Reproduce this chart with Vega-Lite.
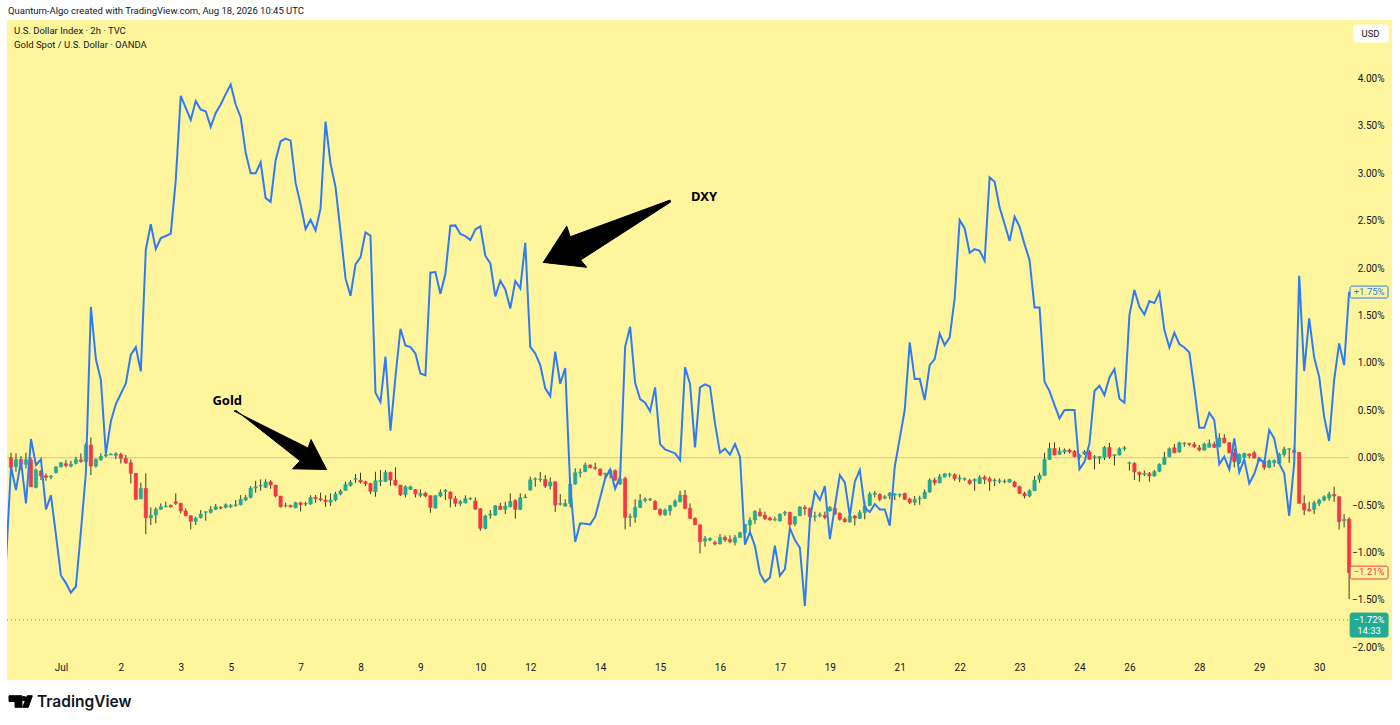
{
  "$schema": "https://vega.github.io/schema/vega-lite/v6.json",
  "description": "DXY against gold, percent change, 2h bars, July",
  "width": 1385,
  "height": 660,
  "autosize": "none",
  "padding": {"left": 7, "top": 20, "right": 8, "bottom": 45},
  "background": "#ffffff",
  "datasets": {
    "dxy": [{"i":-1,"p":-1.09},{"i":0,"p":-0.095},{"i":1,"p":-0.341},{"i":2,"p":-0.032},{"i":3,"p":-0.482},{"i":4,"p":0.197},{"i":5,"p":-0.077},{"i":6,"p":-0.018},{"i":7,"p":-0.545},{"i":8,"p":-0.397},{"i":9,"p":-0.813},{"i":10,"p":-1.242},{"i":11,"p":-1.322},{"i":12,"p":-1.423},{"i":13,"p":-1.358},{"i":14,"p":-0.777},{"i":15,"p":-0.16},{"i":16,"p":1.59},{"i":17,"p":1.038},{"i":18,"p":0.821},{"i":19,"p":0.04},{"i":20,"p":0.385},{"i":21,"p":0.566},{"i":22,"p":0.675},{"i":23,"p":0.784},{"i":24,"p":1.086},{"i":25,"p":1.166},{"i":26,"p":0.911},{"i":27,"p":2.193},{"i":28,"p":2.462},{"i":29,"p":2.2},{"i":30,"p":2.317},{"i":31,"p":2.338},{"i":32,"p":2.364},{"i":33,"p":2.927},{"i":34,"p":3.816},{"i":35,"p":3.689},{"i":36,"p":3.562},{"i":37,"p":3.762},{"i":38,"p":3.671},{"i":39,"p":3.653},{"i":40,"p":3.489},{"i":41,"p":3.635},{"i":42,"p":3.725},{"i":43,"p":3.834},{"i":44,"p":3.936},{"i":45,"p":3.725},{"i":46,"p":3.591},{"i":47,"p":3.217},{"i":48,"p":2.999},{"i":49,"p":2.999},{"i":50,"p":3.115},{"i":51,"p":2.738},{"i":52,"p":2.698},{"i":53,"p":3.137},{"i":54,"p":3.337},{"i":55,"p":3.366},{"i":56,"p":3.344},{"i":57,"p":2.898},{"i":58,"p":2.672},{"i":59,"p":2.411},{"i":60,"p":2.509},{"i":61,"p":2.396},{"i":62,"p":2.629},{"i":63,"p":3.544},{"i":64,"p":3.101},{"i":65,"p":2.854},{"i":66,"p":2.382},{"i":67,"p":1.891},{"i":68,"p":1.708},{"i":69,"p":2.039},{"i":70,"p":2.113},{"i":71,"p":2.376},{"i":72,"p":2.341},{"i":73,"p":0.685},{"i":74,"p":0.587},{"i":75,"p":1.065},{"i":76,"p":0.285},{"i":77,"p":0.854},{"i":78,"p":1.36},{"i":79,"p":1.185},{"i":80,"p":1.167},{"i":81,"p":1.1},{"i":82,"p":0.889},{"i":83,"p":0.868},{"i":84,"p":1.951},{"i":85,"p":1.958},{"i":86,"p":1.729},{"i":87,"p":1.937},{"i":88,"p":2.446},{"i":89,"p":2.45},{"i":90,"p":2.359},{"i":91,"p":2.337},{"i":92,"p":2.295},{"i":93,"p":2.408},{"i":94,"p":2.439},{"i":95,"p":2.13},{"i":96,"p":2.049},{"i":97,"p":1.701},{"i":98,"p":1.866},{"i":99,"p":1.775},{"i":100,"p":1.575},{"i":101,"p":1.863},{"i":102,"p":1.786},{"i":103,"p":2.267},{"i":104,"p":1.17},{"i":105,"p":1.1},{"i":106,"p":0.977},{"i":107,"p":0.731},{"i":108,"p":0.65},{"i":109,"p":1.118},{"i":110,"p":0.78},{"i":111,"p":0.946},{"i":112,"p":-0.3},{"i":113,"p":-0.889},{"i":114,"p":-0.692},{"i":115,"p":-0.696},{"i":116,"p":-0.703},{"i":117,"p":-0.622},{"i":118,"p":-0.422},{"i":119,"p":-0.218},{"i":120,"p":-0.123},{"i":121,"p":-0.327},{"i":122,"p":-0.2},{"i":123,"p":1.17},{"i":124,"p":1.381},{"i":125,"p":0.791},{"i":126,"p":0.619},{"i":127,"p":0.58},{"i":128,"p":0.489},{"i":129,"p":0.742},{"i":130,"p":0.144},{"i":131,"p":0.088},{"i":132,"p":0.067},{"i":133,"p":0.046},{"i":134,"p":-0.025},{"i":135,"p":0.953},{"i":136,"p":0.777},{"i":137,"p":0.109},{"i":138,"p":0.742},{"i":139,"p":0.773},{"i":140,"p":0.749},{"i":141,"p":0.362},{"i":142,"p":0.053},{"i":143,"p":0.095},{"i":144,"p":0.032},{"i":145,"p":0.144},{"i":146,"p":0.011},{"i":147,"p":-0.917},{"i":148,"p":-0.784},{"i":149,"p":-0.931},{"i":150,"p":-1.22},{"i":151,"p":-1.311},{"i":152,"p":-1.262},{"i":153,"p":-0.928},{"i":154,"p":-1.244},{"i":155,"p":-1.174},{"i":156,"p":-0.742},{"i":157,"p":-0.868},{"i":158,"p":-0.949},{"i":159,"p":-1.564},{"i":160,"p":-0.657},{"i":161,"p":-0.359},{"i":162,"p":-0.446},{"i":163,"p":-0.299},{"i":164,"p":-0.858},{"i":165,"p":-0.517},{"i":166,"p":-0.183},{"i":167,"p":-0.26},{"i":168,"p":-0.615},{"i":169,"p":-0.253},{"i":170,"p":-0.13},{"i":171,"p":-0.527},{"i":172,"p":-0.573},{"i":173,"p":-0.489},{"i":174,"p":-0.545},{"i":175,"p":-0.545},{"i":176,"p":-0.717},{"i":177,"p":-0.095},{"i":178,"p":0.204},{"i":179,"p":0.503},{"i":180,"p":1.216},{"i":181,"p":0.83},{"i":182,"p":0.833},{"i":183,"p":0.608},{"i":184,"p":0.977},{"i":185,"p":1.04},{"i":186,"p":1.308},{"i":187,"p":1.188},{"i":188,"p":1.269},{"i":189,"p":1.68},{"i":190,"p":2.506},{"i":191,"p":2.418},{"i":192,"p":2.162},{"i":193,"p":2.2},{"i":194,"p":2.183},{"i":195,"p":2.077},{"i":196,"p":2.956},{"i":197,"p":2.91},{"i":198,"p":2.64},{"i":199,"p":2.464},{"i":200,"p":2.285},{"i":201,"p":2.541},{"i":202,"p":2.436},{"i":203,"p":2.25},{"i":204,"p":2.084},{"i":205,"p":1.585},{"i":206,"p":1.585},{"i":207,"p":0.801},{"i":208,"p":0.703},{"i":209,"p":0.555},{"i":210,"p":0.415},{"i":211,"p":0.503},{"i":212,"p":0.503},{"i":213,"p":0.503},{"i":214,"p":-0.12},{"i":215,"p":-0.042},{"i":216,"p":0.151},{"i":217,"p":0.703},{"i":218,"p":0.759},{"i":219,"p":0.661},{"i":220,"p":0.847},{"i":221,"p":0.935},{"i":222,"p":0.622},{"i":223,"p":0.58},{"i":224,"p":1.504},{"i":225,"p":1.768},{"i":226,"p":1.592},{"i":227,"p":1.511},{"i":228,"p":1.652},{"i":229,"p":1.631},{"i":230,"p":1.743},{"i":231,"p":1.346},{"i":232,"p":1.163},{"i":233,"p":1.318},{"i":234,"p":1.199},{"i":235,"p":1.163},{"i":236,"p":1.111},{"i":237,"p":0.731},{"i":238,"p":0.316},{"i":239,"p":0.316},{"i":240,"p":0.475},{"i":241,"p":0.397},{"i":242,"p":-0.067},{"i":243,"p":0.011},{"i":244,"p":-0.123},{"i":245,"p":0.204},{"i":246,"p":-0.155},{"i":247,"p":-0.018},{"i":248,"p":-0.271},{"i":249,"p":-0.172},{"i":250,"p":-0.007},{"i":251,"p":-0.06},{"i":252,"p":0.292},{"i":253,"p":0.204},{"i":254,"p":-0.06},{"i":255,"p":-0.165},{"i":256,"p":-0.612},{"i":257,"p":-0.06},{"i":258,"p":1.919},{"i":259,"p":0.914},{"i":260,"p":1.469},{"i":261,"p":1.058},{"i":262,"p":0.854},{"i":263,"p":0.432},{"i":264,"p":0.176},{"i":265,"p":0.819},{"i":266,"p":1.206},{"i":267,"p":0.977},{"i":268,"p":1.75}],
    "gold": [{"i":0,"o":0,"h":0.053,"l":-0.148,"c":-0.102},{"i":1,"o":-0.095,"h":0.046,"l":-0.148,"c":-0.018},{"i":2,"o":-0.018,"h":0.018,"l":-0.13,"c":-0.07},{"i":3,"o":-0.07,"h":0.053,"l":-0.112,"c":-0.018},{"i":4,"o":-0.025,"h":0.004,"l":-0.306,"c":-0.306},{"i":5,"o":-0.313,"h":-0.112,"l":-0.323,"c":-0.13},{"i":6,"o":-0.141,"h":-0.13,"l":-0.236,"c":-0.193},{"i":7,"o":-0.19,"h":-0.165,"l":-0.243,"c":-0.207},{"i":8,"o":-0.204,"h":-0.183,"l":-0.228,"c":-0.193},{"i":9,"o":-0.158,"h":-0.088,"l":-0.165,"c":-0.098},{"i":10,"o":-0.095,"h":-0.046,"l":-0.102,"c":-0.053},{"i":11,"o":-0.063,"h":-0.025,"l":-0.102,"c":-0.084},{"i":12,"o":-0.088,"h":-0.032,"l":-0.102,"c":-0.067},{"i":13,"o":-0.06,"h":0.011,"l":-0.07,"c":-0.018},{"i":14,"o":-0.021,"h":0.046,"l":-0.053,"c":-0.039},{"i":15,"o":-0.042,"h":0.158,"l":-0.042,"c":0.134},{"i":16,"o":0.134,"h":0.214,"l":-0.183,"c":-0.088},{"i":17,"o":-0.088,"h":-0.007,"l":-0.105,"c":-0.018},{"i":18,"o":-0.021,"h":0.046,"l":-0.032,"c":0.014},{"i":19,"o":0.018,"h":0.046,"l":0.004,"c":0.032},{"i":20,"o":0.032,"h":0.046,"l":0.025,"c":0.039},{"i":21,"o":0.025,"h":0.056,"l":-0.014,"c":0.042},{"i":22,"o":0.035,"h":0.053,"l":-0.06,"c":-0.007},{"i":23,"o":-0.007,"h":0.028,"l":-0.067,"c":-0.053},{"i":24,"o":-0.053,"h":-0.018,"l":-0.271,"c":-0.165},{"i":25,"o":-0.165,"h":-0.165,"l":-0.446,"c":-0.439},{"i":26,"o":-0.432,"h":-0.264,"l":-0.439,"c":-0.323},{"i":27,"o":-0.323,"h":-0.165,"l":-0.805,"c":-0.633},{"i":28,"o":-0.633,"h":-0.524,"l":-0.71,"c":-0.605},{"i":29,"o":-0.605,"h":-0.524,"l":-0.692,"c":-0.545},{"i":30,"o":-0.545,"h":-0.482,"l":-0.552,"c":-0.517},{"i":31,"o":-0.517,"h":-0.464,"l":-0.524,"c":-0.51},{"i":32,"o":-0.503,"h":-0.492,"l":-0.524,"c":-0.52},{"i":33,"o":-0.464,"h":-0.376,"l":-0.499,"c":-0.482},{"i":34,"o":-0.482,"h":-0.475,"l":-0.587,"c":-0.562},{"i":35,"o":-0.562,"h":-0.534,"l":-0.619,"c":-0.612},{"i":36,"o":-0.612,"h":-0.605,"l":-0.756,"c":-0.671},{"i":37,"o":-0.671,"h":-0.622,"l":-0.71,"c":-0.64},{"i":38,"o":-0.633,"h":-0.552,"l":-0.643,"c":-0.594},{"i":39,"o":-0.576,"h":-0.569,"l":-0.664,"c":-0.569},{"i":40,"o":-0.576,"h":-0.51,"l":-0.587,"c":-0.545},{"i":41,"o":-0.545,"h":-0.489,"l":-0.552,"c":-0.517},{"i":42,"o":-0.524,"h":-0.51,"l":-0.545,"c":-0.531},{"i":43,"o":-0.524,"h":-0.482,"l":-0.534,"c":-0.496},{"i":44,"o":-0.517,"h":-0.489,"l":-0.531,"c":-0.503},{"i":45,"o":-0.503,"h":-0.446,"l":-0.517,"c":-0.496},{"i":46,"o":-0.496,"h":-0.394,"l":-0.503,"c":-0.439},{"i":47,"o":-0.446,"h":-0.394,"l":-0.457,"c":-0.418},{"i":48,"o":-0.418,"h":-0.299,"l":-0.429,"c":-0.32},{"i":49,"o":-0.32,"h":-0.243,"l":-0.369,"c":-0.306},{"i":50,"o":-0.299,"h":-0.228,"l":-0.348,"c":-0.292},{"i":51,"o":-0.313,"h":-0.228,"l":-0.32,"c":-0.257},{"i":52,"o":-0.253,"h":-0.236,"l":-0.327,"c":-0.288},{"i":53,"o":-0.288,"h":-0.288,"l":-0.418,"c":-0.404},{"i":54,"o":-0.404,"h":-0.404,"l":-0.524,"c":-0.517},{"i":55,"o":-0.51,"h":-0.475,"l":-0.524,"c":-0.503},{"i":56,"o":-0.503,"h":-0.496,"l":-0.524,"c":-0.517},{"i":57,"o":-0.527,"h":-0.464,"l":-0.534,"c":-0.475},{"i":58,"o":-0.475,"h":-0.464,"l":-0.566,"c":-0.496},{"i":59,"o":-0.489,"h":-0.464,"l":-0.51,"c":-0.482},{"i":60,"o":-0.489,"h":-0.397,"l":-0.496,"c":-0.418},{"i":61,"o":-0.418,"h":-0.394,"l":-0.475,"c":-0.432},{"i":62,"o":-0.432,"h":-0.369,"l":-0.46,"c":-0.446},{"i":63,"o":-0.446,"h":-0.397,"l":-0.517,"c":-0.464},{"i":64,"o":-0.468,"h":-0.376,"l":-0.51,"c":-0.446},{"i":65,"o":-0.446,"h":-0.359,"l":-0.46,"c":-0.383},{"i":66,"o":-0.383,"h":-0.334,"l":-0.397,"c":-0.351},{"i":67,"o":-0.344,"h":-0.253,"l":-0.351,"c":-0.281},{"i":68,"o":-0.292,"h":-0.236,"l":-0.306,"c":-0.257},{"i":69,"o":-0.228,"h":-0.172,"l":-0.264,"c":-0.218},{"i":70,"o":-0.236,"h":-0.158,"l":-0.271,"c":-0.257},{"i":71,"o":-0.253,"h":-0.243,"l":-0.299,"c":-0.274},{"i":72,"o":-0.271,"h":-0.264,"l":-0.383,"c":-0.355},{"i":73,"o":-0.359,"h":-0.148,"l":-0.411,"c":-0.243},{"i":74,"o":-0.25,"h":-0.13,"l":-0.299,"c":-0.239},{"i":75,"o":-0.25,"h":-0.13,"l":-0.257,"c":-0.155},{"i":76,"o":-0.155,"h":-0.148,"l":-0.295,"c":-0.236},{"i":77,"o":-0.236,"h":-0.102,"l":-0.295,"c":-0.288},{"i":78,"o":-0.288,"h":-0.288,"l":-0.404,"c":-0.39},{"i":79,"o":-0.39,"h":-0.292,"l":-0.418,"c":-0.306},{"i":80,"o":-0.334,"h":-0.295,"l":-0.341,"c":-0.306},{"i":81,"o":-0.337,"h":-0.33,"l":-0.418,"c":-0.383},{"i":82,"o":-0.397,"h":-0.334,"l":-0.418,"c":-0.376},{"i":83,"o":-0.373,"h":-0.359,"l":-0.418,"c":-0.404},{"i":84,"o":-0.401,"h":-0.394,"l":-0.58,"c":-0.524},{"i":85,"o":-0.531,"h":-0.394,"l":-0.538,"c":-0.401},{"i":86,"o":-0.404,"h":-0.334,"l":-0.418,"c":-0.366},{"i":87,"o":-0.355,"h":-0.33,"l":-0.446,"c":-0.344},{"i":88,"o":-0.362,"h":-0.355,"l":-0.524,"c":-0.432},{"i":89,"o":-0.432,"h":-0.404,"l":-0.517,"c":-0.482},{"i":90,"o":-0.482,"h":-0.446,"l":-0.51,"c":-0.464},{"i":91,"o":-0.475,"h":-0.397,"l":-0.482,"c":-0.432},{"i":92,"o":-0.436,"h":-0.418,"l":-0.446,"c":-0.429},{"i":93,"o":-0.457,"h":-0.418,"l":-0.552,"c":-0.541},{"i":94,"o":-0.538,"h":-0.531,"l":-0.77,"c":-0.745},{"i":95,"o":-0.745,"h":-0.601,"l":-0.756,"c":-0.615},{"i":96,"o":-0.605,"h":-0.552,"l":-0.643,"c":-0.594},{"i":97,"o":-0.605,"h":-0.499,"l":-0.612,"c":-0.506},{"i":98,"o":-0.51,"h":-0.475,"l":-0.552,"c":-0.545},{"i":99,"o":-0.545,"h":-0.464,"l":-0.594,"c":-0.51},{"i":100,"o":-0.517,"h":-0.376,"l":-0.524,"c":-0.46},{"i":101,"o":-0.45,"h":-0.439,"l":-0.643,"c":-0.545},{"i":102,"o":-0.545,"h":-0.376,"l":-0.552,"c":-0.422},{"i":103,"o":-0.422,"h":-0.383,"l":-0.425,"c":-0.415},{"i":104,"o":-0.341,"h":-0.2,"l":-0.348,"c":-0.232},{"i":105,"o":-0.228,"h":-0.207,"l":-0.306,"c":-0.221},{"i":106,"o":-0.232,"h":-0.151,"l":-0.257,"c":-0.225},{"i":107,"o":-0.228,"h":-0.183,"l":-0.32,"c":-0.299},{"i":108,"o":-0.299,"h":-0.207,"l":-0.334,"c":-0.257},{"i":109,"o":-0.253,"h":-0.25,"l":-0.573,"c":-0.499},{"i":110,"o":-0.492,"h":-0.383,"l":-0.503,"c":-0.482},{"i":111,"o":-0.51,"h":-0.439,"l":-0.517,"c":-0.482},{"i":112,"o":-0.482,"h":-0.218,"l":-0.524,"c":-0.278},{"i":113,"o":-0.278,"h":-0.112,"l":-0.285,"c":-0.158},{"i":114,"o":-0.158,"h":-0.116,"l":-0.207,"c":-0.151},{"i":115,"o":-0.148,"h":-0.053,"l":-0.151,"c":-0.077},{"i":116,"o":-0.077,"h":-0.07,"l":-0.112,"c":-0.105},{"i":117,"o":-0.102,"h":-0.053,"l":-0.13,"c":-0.112},{"i":118,"o":-0.12,"h":-0.112,"l":-0.193,"c":-0.183},{"i":119,"o":-0.172,"h":-0.158,"l":-0.218,"c":-0.165},{"i":120,"o":-0.172,"h":-0.12,"l":-0.218,"c":-0.13},{"i":121,"o":-0.137,"h":-0.123,"l":-0.243,"c":-0.236},{"i":122,"o":-0.278,"h":-0.183,"l":-0.288,"c":-0.225},{"i":123,"o":-0.218,"h":-0.2,"l":-0.756,"c":-0.629},{"i":124,"o":-0.629,"h":-0.587,"l":-0.728,"c":-0.622},{"i":125,"o":-0.629,"h":-0.439,"l":-0.685,"c":-0.524},{"i":126,"o":-0.524,"h":-0.383,"l":-0.531,"c":-0.45},{"i":127,"o":-0.45,"h":-0.418,"l":-0.471,"c":-0.436},{"i":128,"o":-0.443,"h":-0.422,"l":-0.457,"c":-0.436},{"i":129,"o":-0.46,"h":-0.446,"l":-0.552,"c":-0.545},{"i":130,"o":-0.545,"h":-0.534,"l":-0.612,"c":-0.598},{"i":131,"o":-0.601,"h":-0.534,"l":-0.612,"c":-0.552},{"i":132,"o":-0.559,"h":-0.496,"l":-0.608,"c":-0.506},{"i":133,"o":-0.51,"h":-0.439,"l":-0.524,"c":-0.457},{"i":134,"o":-0.464,"h":-0.348,"l":-0.471,"c":-0.394},{"i":135,"o":-0.394,"h":-0.341,"l":-0.545,"c":-0.534},{"i":136,"o":-0.534,"h":-0.482,"l":-0.64,"c":-0.64},{"i":137,"o":-0.64,"h":-0.629,"l":-0.71,"c":-0.707},{"i":138,"o":-0.707,"h":-0.707,"l":-1.009,"c":-0.886},{"i":139,"o":-0.879,"h":-0.826,"l":-0.938,"c":-0.854},{"i":140,"o":-0.868,"h":-0.84,"l":-0.882,"c":-0.851},{"i":141,"o":-0.893,"h":-0.875,"l":-0.924,"c":-0.91},{"i":142,"o":-0.91,"h":-0.805,"l":-0.914,"c":-0.84},{"i":143,"o":-0.84,"h":-0.819,"l":-0.886,"c":-0.868},{"i":144,"o":-0.861,"h":-0.819,"l":-0.903,"c":-0.886},{"i":145,"o":-0.893,"h":-0.815,"l":-0.924,"c":-0.84},{"i":146,"o":-0.84,"h":-0.78,"l":-0.844,"c":-0.791},{"i":147,"o":-0.791,"h":-0.703,"l":-0.868,"c":-0.703},{"i":148,"o":-0.71,"h":-0.629,"l":-0.791,"c":-0.657},{"i":149,"o":-0.657,"h":-0.552,"l":-0.699,"c":-0.566},{"i":150,"o":-0.573,"h":-0.534,"l":-0.622,"c":-0.612},{"i":151,"o":-0.605,"h":-0.569,"l":-0.657,"c":-0.643},{"i":152,"o":-0.636,"h":-0.622,"l":-0.664,"c":-0.657},{"i":153,"o":-0.657,"h":-0.622,"l":-0.671,"c":-0.65},{"i":154,"o":-0.668,"h":-0.587,"l":-0.671,"c":-0.594},{"i":155,"o":-0.587,"h":-0.559,"l":-0.615,"c":-0.576},{"i":156,"o":-0.576,"h":-0.569,"l":-0.721,"c":-0.703},{"i":157,"o":-0.699,"h":-0.615,"l":-0.721,"c":-0.622},{"i":158,"o":-0.612,"h":-0.51,"l":-0.615,"c":-0.52},{"i":159,"o":-0.524,"h":-0.499,"l":-0.605,"c":-0.538},{"i":160,"o":-0.534,"h":-0.524,"l":-0.671,"c":-0.622},{"i":161,"o":-0.622,"h":-0.569,"l":-0.671,"c":-0.615},{"i":162,"o":-0.612,"h":-0.576,"l":-0.629,"c":-0.601},{"i":163,"o":-0.608,"h":-0.569,"l":-0.65,"c":-0.629},{"i":164,"o":-0.562,"h":-0.51,"l":-0.569,"c":-0.524},{"i":165,"o":-0.534,"h":-0.524,"l":-0.605,"c":-0.594},{"i":166,"o":-0.587,"h":-0.576,"l":-0.664,"c":-0.65},{"i":167,"o":-0.647,"h":-0.629,"l":-0.682,"c":-0.675},{"i":168,"o":-0.678,"h":-0.605,"l":-0.685,"c":-0.615},{"i":169,"o":-0.615,"h":-0.605,"l":-0.714,"c":-0.636},{"i":170,"o":-0.64,"h":-0.552,"l":-0.647,"c":-0.58},{"i":171,"o":-0.58,"h":-0.453,"l":-0.65,"c":-0.51},{"i":172,"o":-0.503,"h":-0.359,"l":-0.51,"c":-0.383},{"i":173,"o":-0.387,"h":-0.352,"l":-0.418,"c":-0.376},{"i":174,"o":-0.387,"h":-0.376,"l":-0.46,"c":-0.439},{"i":175,"o":-0.425,"h":-0.394,"l":-0.439,"c":-0.411},{"i":176,"o":-0.404,"h":-0.362,"l":-0.439,"c":-0.373},{"i":177,"o":-0.394,"h":-0.373,"l":-0.446,"c":-0.383},{"i":178,"o":-0.394,"h":-0.376,"l":-0.418,"c":-0.387},{"i":179,"o":-0.376,"h":-0.369,"l":-0.446,"c":-0.439},{"i":180,"o":-0.436,"h":-0.422,"l":-0.489,"c":-0.471},{"i":181,"o":-0.471,"h":-0.404,"l":-0.503,"c":-0.439},{"i":182,"o":-0.432,"h":-0.401,"l":-0.496,"c":-0.425},{"i":183,"o":-0.429,"h":-0.334,"l":-0.436,"c":-0.362},{"i":184,"o":-0.362,"h":-0.218,"l":-0.369,"c":-0.236},{"i":185,"o":-0.236,"h":-0.211,"l":-0.292,"c":-0.264},{"i":186,"o":-0.264,"h":-0.172,"l":-0.271,"c":-0.2},{"i":187,"o":-0.204,"h":-0.165,"l":-0.207,"c":-0.169},{"i":188,"o":-0.183,"h":-0.158,"l":-0.207,"c":-0.176},{"i":189,"o":-0.179,"h":-0.165,"l":-0.243,"c":-0.221},{"i":190,"o":-0.225,"h":-0.179,"l":-0.257,"c":-0.214},{"i":191,"o":-0.228,"h":-0.207,"l":-0.243,"c":-0.221},{"i":192,"o":-0.239,"h":-0.221,"l":-0.285,"c":-0.271},{"i":193,"o":-0.243,"h":-0.218,"l":-0.348,"c":-0.228},{"i":194,"o":-0.271,"h":-0.186,"l":-0.278,"c":-0.207},{"i":195,"o":-0.204,"h":-0.186,"l":-0.278,"c":-0.228},{"i":196,"o":-0.221,"h":-0.2,"l":-0.348,"c":-0.25},{"i":197,"o":-0.246,"h":-0.218,"l":-0.299,"c":-0.236},{"i":198,"o":-0.25,"h":-0.218,"l":-0.271,"c":-0.243},{"i":199,"o":-0.253,"h":-0.228,"l":-0.271,"c":-0.246},{"i":200,"o":-0.257,"h":-0.221,"l":-0.264,"c":-0.228},{"i":201,"o":-0.257,"h":-0.243,"l":-0.313,"c":-0.306},{"i":202,"o":-0.306,"h":-0.295,"l":-0.383,"c":-0.376},{"i":203,"o":-0.376,"h":-0.359,"l":-0.429,"c":-0.404},{"i":204,"o":-0.404,"h":-0.334,"l":-0.418,"c":-0.348},{"i":205,"o":-0.348,"h":-0.193,"l":-0.351,"c":-0.236},{"i":206,"o":-0.228,"h":-0.158,"l":-0.264,"c":-0.183},{"i":207,"o":-0.186,"h":0.053,"l":-0.193,"c":-0.018},{"i":208,"o":-0.018,"h":0.158,"l":-0.025,"c":0.098},{"i":209,"o":0.098,"h":0.162,"l":0.025,"c":0.028},{"i":210,"o":0.035,"h":0.109,"l":0.032,"c":0.07},{"i":211,"o":0.06,"h":0.098,"l":0.039,"c":0.081},{"i":212,"o":0.081,"h":0.095,"l":0.046,"c":0.06},{"i":213,"o":0.067,"h":0.081,"l":0.004,"c":0.011},{"i":214,"o":0.004,"h":0.039,"l":-0.018,"c":0.028},{"i":215,"o":0.039,"h":0.081,"l":0.028,"c":0.063},{"i":216,"o":0.063,"h":0.081,"l":-0.018,"c":-0.018},{"i":217,"o":-0.004,"h":0.028,"l":-0.123,"c":0.011},{"i":218,"o":-0.007,"h":0.018,"l":-0.067,"c":0.011},{"i":219,"o":0.004,"h":0.123,"l":-0.025,"c":0.109},{"i":220,"o":0.109,"h":0.158,"l":-0.011,"c":0.011},{"i":221,"o":0.021,"h":0.032,"l":-0.081,"c":0.032},{"i":222,"o":0.028,"h":0.109,"l":0.025,"c":0.095},{"i":223,"o":0.095,"h":0.123,"l":0.074,"c":0.105},{"i":224,"o":-0.06,"h":-0.042,"l":-0.137,"c":-0.053},{"i":225,"o":-0.06,"h":-0.046,"l":-0.236,"c":-0.151},{"i":226,"o":-0.155,"h":-0.144,"l":-0.253,"c":-0.179},{"i":227,"o":-0.176,"h":-0.137,"l":-0.193,"c":-0.165},{"i":228,"o":-0.165,"h":-0.151,"l":-0.253,"c":-0.193},{"i":229,"o":-0.193,"h":-0.13,"l":-0.2,"c":-0.144},{"i":230,"o":-0.144,"h":-0.06,"l":-0.151,"c":-0.07},{"i":231,"o":-0.07,"h":0.063,"l":-0.074,"c":0.004},{"i":232,"o":0.011,"h":0.109,"l":0.004,"c":0.095},{"i":233,"o":0.105,"h":0.144,"l":0.046,"c":0.053},{"i":234,"o":0.06,"h":0.169,"l":0.053,"c":0.158},{"i":235,"o":0.148,"h":0.165,"l":0.116,"c":0.155},{"i":236,"o":0.151,"h":0.158,"l":0.123,"c":0.141},{"i":237,"o":0.141,"h":0.165,"l":0.102,"c":0.116},{"i":238,"o":0.105,"h":0.134,"l":0.067,"c":0.081},{"i":239,"o":0.081,"h":0.158,"l":0.074,"c":0.144},{"i":240,"o":0.109,"h":0.193,"l":0.109,"c":0.151},{"i":241,"o":0.144,"h":0.169,"l":0.102,"c":0.109},{"i":242,"o":0.116,"h":0.257,"l":0.109,"c":0.207},{"i":243,"o":0.207,"h":0.25,"l":0.151,"c":0.158},{"i":244,"o":0.158,"h":0.165,"l":0.046,"c":0.053},{"i":245,"o":0.053,"h":0.098,"l":-0.102,"c":-0.042},{"i":246,"o":-0.053,"h":0.046,"l":-0.067,"c":0.035},{"i":247,"o":0.004,"h":0.053,"l":-0.007,"c":0.046},{"i":248,"o":0.039,"h":0.046,"l":-0.007,"c":0.021},{"i":249,"o":0.053,"h":0.074,"l":-0.011,"c":-0.004},{"i":250,"o":-0.004,"h":0.004,"l":-0.039,"c":-0.032},{"i":251,"o":-0.032,"h":-0.018,"l":-0.13,"c":-0.102},{"i":252,"o":-0.102,"h":-0.018,"l":-0.112,"c":-0.032},{"i":253,"o":-0.053,"h":-0.018,"l":-0.095,"c":-0.028},{"i":254,"o":-0.06,"h":0.053,"l":-0.067,"c":0.035},{"i":255,"o":0.035,"h":0.116,"l":0.011,"c":0.091},{"i":256,"o":0.088,"h":0.098,"l":-0.053,"c":0.095},{"i":257,"o":0.077,"h":0.116,"l":0.046,"c":0.056},{"i":258,"o":0.056,"h":0.06,"l":-0.482,"c":-0.482},{"i":259,"o":-0.482,"h":-0.397,"l":-0.605,"c":-0.552},{"i":260,"o":-0.545,"h":-0.464,"l":-0.569,"c":-0.559},{"i":261,"o":-0.545,"h":-0.453,"l":-0.594,"c":-0.475},{"i":262,"o":-0.482,"h":-0.432,"l":-0.51,"c":-0.446},{"i":263,"o":-0.446,"h":-0.397,"l":-0.46,"c":-0.411},{"i":264,"o":-0.425,"h":-0.359,"l":-0.453,"c":-0.383},{"i":265,"o":-0.387,"h":-0.306,"l":-0.464,"c":-0.404},{"i":266,"o":-0.411,"h":-0.404,"l":-0.756,"c":-0.675},{"i":267,"o":-0.664,"h":-0.594,"l":-0.735,"c":-0.65},{"i":268,"o":-0.647,"h":-0.629,"l":-1.49,"c":-1.213}],
    "shapes": [
      {"a":"dxy","n":0,"i":106.6,"p":2.06},{"a":"dxy","n":1,"i":111.3,"p":2.443},{"a":"dxy","n":2,"i":112,"p":2.33},{"a":"dxy","n":3,"i":132,"p":2.717},{"a":"dxy","n":4,"i":132.1,"p":2.696},{"a":"dxy","n":5,"i":114.1,"p":2.085},{"a":"dxy","n":6,"i":115.3,"p":2.008},
      {"a":"gold","n":0,"i":44.7,"p":0.492},{"a":"gold","n":1,"i":59.5,"p":0.102},{"a":"gold","n":2,"i":60.1,"p":0.192},{"a":"gold","n":3,"i":63.2,"p":-0.124},{"a":"gold","n":4,"i":56.4,"p":-0.117},{"a":"gold","n":5,"i":57.9,"p":-0.033},{"a":"gold","n":6,"i":45.1,"p":0.498},
      {"a":"logoT","n":0,"i":-0.4,"p":-2.51},{"a":"logoT","n":1,"i":2.2,"p":-2.51},{"a":"logoT","n":2,"i":2.2,"p":-2.632},{"a":"logoT","n":3,"i":0.8,"p":-2.632},{"a":"logoT","n":4,"i":0.8,"p":-2.571},{"a":"logoT","n":5,"i":-0.4,"p":-2.571},
      {"a":"logoS","n":0,"i":3.26,"p":-2.51},{"a":"logoS","n":1,"i":4.27,"p":-2.51},{"a":"logoS","n":2,"i":3.46,"p":-2.632},{"a":"logoS","n":3,"i":2.34,"p":-2.632}
    ]
  },
  "encoding": {
    "x": {
      "field": "i", "type": "quantitative",
      "scale": {"domain": [-0.801, 276.59], "nice": false, "zero": false, "padding": 0},
      "axis": {
        "title": null, "grid": false, "ticks": false, "domain": false, "zindex": 1,
        "labelPadding": -13, "labelBaseline": "middle", "labelFontSize": 10,
        "labelColor": "#131722", "labelFont": "Roboto", "labelFlush": false, "labelOverlap": false,
        "values": [10,22,34,44,58,70,82,94,104,118,130,142,154,164,178,190,202,214,224,238,250,262],
        "labelExpr": "{'10':'Jul','22':'2','34':'3','44':'5','58':'7','70':'8','82':'9','94':'10','104':'12','118':'14','130':'15','142':'16','154':'17','164':'19','178':'21','190':'22','202':'23','214':'24','224':'26','238':'28','250':'29','262':'30'}[datum.value]"
      }
    }
  },
  "layer": [
    {
      "data": {"values": [{"i":-0.8,"i2":268,"p":0}]},
      "mark": {"type": "rule", "color": "#c9c8ad", "strokeWidth": 1},
      "encoding": {
        "x2": {"field": "i2"},
        "y": {
          "field": "p", "type": "quantitative",
          "scale": {"domain": [-2.344, 4.616], "nice": false, "zero": false, "padding": 0},
          "axis": {
            "orient": "right", "title": null, "grid": false, "ticks": false, "domain": false, "zindex": 1,
            "labelAlign": "right", "labelPadding": -8, "labelFontSize": 10, "labelColor": "#131722",
            "labelFont": "Roboto", "labelOverlap": false, "labelFlush": false,
            "values": [4,3.5,3,2.5,2,1.5,1,0.5,0,-0.5,-1,-1.5,-2],
            "labelExpr": "format(datum.value,'.2f')+'%'"
          }
        }
      }
    },
    {
      "data": {"values": [{"i":-0.8,"i2":268.2,"p":-1.71}]},
      "mark": {"type": "rule", "color": "#22ab94", "strokeWidth": 1, "strokeDash": [1, 3]},
      "encoding": {
        "x2": {"field": "i2"},
        "y": {"field": "p", "type": "quantitative"}
      }
    },
    {
      "data": {"name": "gold"},
      "mark": {"type": "rule", "color": "#3d3b25", "strokeWidth": 1},
      "encoding": {
        "y": {"field": "l", "type": "quantitative"},
        "y2": {"field": "h"}
      }
    },
    {
      "data": {"name": "gold"},
      "mark": {"type": "bar", "size": 3.4, "strokeWidth": 0.5},
      "encoding": {
        "y": {"field": "o", "type": "quantitative"},
        "y2": {"field": "c"},
        "color": {"condition": {"test": "datum.c < datum.o", "value": "#f23645"}, "value": "#22ab94"},
        "stroke": {"condition": {"test": "datum.c < datum.o", "value": "#f23645"}, "value": "#22ab94"}
      }
    },
    {
      "data": {"name": "dxy"},
      "mark": {"type": "line", "color": "#2f7bf5", "strokeWidth": 2, "clip": true, "interpolate": "linear"},
      "encoding": {
        "y": {"field": "p", "type": "quantitative"}
      }
    },
    {
      "data": {"name": "shapes"},
      "mark": {"type": "line", "color": "#000000", "fill": "#000000", "strokeWidth": 1, "interpolate": "linear-closed", "clip": false},
      "encoding": {
        "y": {"field": "p", "type": "quantitative"},
        "detail": {"field": "a"},
        "order": {"field": "n", "type": "quantitative"}
      }
    },
    {
      "data": {"values": [{"i":2.6,"p":-2.539}]},
      "mark": {"type": "point", "filled": true, "opacity": 1, "color": "#000000", "size": 26, "clip": false},
      "encoding": {
        "y": {"field": "p", "type": "quantitative"}
      }
    },
    {
      "data": {"values": [{"i":268.2,"i2":275.8,"p":1.81,"p2":1.684,"k":"dxy"},{"i":268.2,"i2":275.8,"p":-1.143,"p2":-1.279,"k":"gold"},{"i":268.9,"i2":275.8,"p":4.563,"p2":4.384,"k":"usd"},{"i":268.2,"i2":275.8,"p":-1.638,"p2":-1.891,"k":"last"}]},
      "mark": {"type": "rect", "cornerRadius": 2, "strokeWidth": 1},
      "encoding": {
        "x2": {"field": "i2"},
        "y": {"field": "p", "type": "quantitative"},
        "y2": {"field": "p2"},
        "fill": {"field": "k", "type": "nominal", "legend": null, "scale": {"domain": ["dxy","gold","usd","last"], "range": ["#fff59d","#fff59d","#ffffff","#22ab94"]}},
        "stroke": {"field": "k", "type": "nominal", "legend": null, "scale": {"domain": ["dxy","gold","usd","last"], "range": ["#2f7bf5","#f23645","#ffffff","#22ab94"]}}
      }
    },
    {
      "data": {"values": [{"i":-0.6,"p":4.71,"t":"Quantum-Algo created with TradingView.com, Aug 18, 2026 10:45 UTC"},{"i":0.6,"p":4.5,"t":"U.S. Dollar Index · 2h · TVC"},{"i":0.6,"p":4.352,"t":"Gold Spot / U.S. Dollar · OANDA"}]},
      "mark": {"type": "text", "align": "left", "baseline": "middle", "font": "Roboto", "fontSize": 9.5, "color": "#131722", "clip": false},
      "encoding": {
        "y": {"field": "p", "type": "quantitative"},
        "text": {"field": "t"}
      }
    },
    {
      "data": {"values": [{"i":138.8,"p":2.749,"t":"DXY"},{"i":43.3,"p":0.598,"t":"Gold"}]},
      "mark": {"type": "text", "align": "center", "baseline": "middle", "font": "Noto Sans", "fontSize": 13, "fontWeight": "bold", "color": "#000000"},
      "encoding": {
        "y": {"field": "p", "type": "quantitative"},
        "text": {"field": "t"}
      }
    },
    {
      "data": {"values": [{"i":5.2,"p":-2.576,"t":"TradingView"}]},
      "mark": {"type": "text", "align": "left", "baseline": "middle", "font": "Inter", "fontSize": 15.5, "fontWeight": 600, "color": "#131722", "clip": false},
      "encoding": {
        "y": {"field": "p", "type": "quantitative"},
        "text": {"field": "t"}
      }
    },
    {
      "data": {"values": [{"i":272,"p":1.747,"t":"+1.75%","k":"dxy"},{"i":272,"p":-1.21,"t":"−1.21%","k":"gold"},{"i":272.3,"p":4.47,"t":"USD","k":"usd"},{"i":272,"p":-1.716,"t":"−1.72%","k":"last"},{"i":272,"p":-1.828,"t":"14:33","k":"last"}]},
      "mark": {"type": "text", "align": "center", "baseline": "middle", "font": "Roboto", "fontSize": 9.5},
      "encoding": {
        "y": {"field": "p", "type": "quantitative"},
        "text": {"field": "t"},
        "color": {"field": "k", "type": "nominal", "legend": null, "scale": {"domain": ["dxy","gold","usd","last"], "range": ["#2f7bf5","#f23645","#131722","#ffffff"]}}
      }
    }
  ],
  "resolve": {"scale": {"color": "independent", "fill": "independent", "stroke": "independent"}},
  "config": {
    "view": {"fill": "#fff59d", "stroke": null},
    "scale": {"continuousPadding": 0}
  }
}
